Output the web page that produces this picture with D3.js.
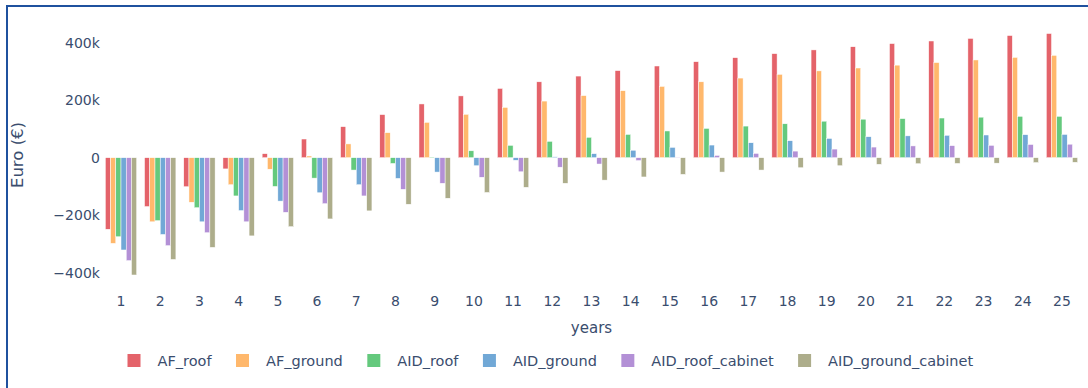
<!DOCTYPE html>
<html>
<head>
<meta charset="utf-8">
<script src="https://cdn.jsdelivr.net/npm/d3@7"></script>
<style>
  html, body { margin: 0; padding: 0; background: #fff; }
  svg { display: block; font-family: "DejaVu Sans", Verdana, sans-serif; }
</style>
</head>
<body>
<svg id="chart" width="1088" height="388"></svg>
<script>
// ---- data (values in thousands of euro) ----
const years = ["1","2","3","4","5","6","7","8","9","10","11","12","13","14","15","16","17","18","19","20","21","22","23","24","25"];
const seriesNames = ["AF_roof","AF_ground","AID_roof","AID_ground","AID_roof_cabinet","AID_ground_cabinet"];
const AF_roof = [-249,-170,-101,-39,14,65,108,150,187,215,241,264,284,303,319,334,348,362,375,386,397,406,415,425,432];
const AF_ground = [-298,-223,-155,-94,-40,6,48,87,123,151,175,197,216,233,248,264,277,290,302,312,322,331,340,349,356];
const AID_roof = [-275,-219,-174,-133,-100,-71,-43,-20,2,24,43,57,71,81,93,102,110,118,127,134,136,138,141,144,144];
const AID_ground = [-321,-267,-223,-184,-151,-122,-94,-72,-50,-28,-9,3,14,26,36,44,52,59,67,73,76,78,79,80,81];
const AID_roof_cabinet = [-358,-306,-261,-223,-190,-160,-133,-110,-89,-68,-49,-33,-22,-10,1,8,15,23,30,37,41,42,43,46,47];
const AID_ground_cabinet = [-408,-354,-312,-272,-240,-213,-185,-162,-141,-121,-103,-89,-78,-67,-58,-50,-43,-35,-28,-23,-21,-20,-19,-17,-16];
const yTicks = [-400000,-200000,0,200000,400000];
const colors = ["#e4636a","#ffb86c","#64c97d","#71a8d6","#b390d6","#adad8b"];

const seriesValues = [AF_roof, AF_ground, AID_roof, AID_ground, AID_roof_cabinet, AID_ground_cabinet];

// ---- layout ----
const svg = d3.select("#chart");
const plot = {left: 101.4, right: 1081.6, top: 20, bottom: 290};
const textColor = "#3a4d6e";

// frame
svg.append("rect")
  .attr("x", 7).attr("y", 6)
  .attr("width", 1100).attr("height", 400)
  .attr("fill", "none")
  .attr("stroke", "#1f519e")
  .attr("stroke-width", 2);

const x = d3.scaleBand().domain(years).range([plot.left, plot.right])
  .paddingInner(0.2).paddingOuter(0.1);
const xs = d3.scaleBand().domain(seriesNames).range([0, x.bandwidth()]).padding(0);
const y = d3.scaleLinear().domain([-460200, 479000]).range([plot.bottom, plot.top]);

// bars
const flat = [];
seriesNames.forEach((s, i) => {
  years.forEach((yr, j) => flat.push({s, i, yr, v: seriesValues[i][j] * 1000}));
});
svg.append("g").selectAll("rect").data(flat).join("rect")
  .attr("x", d => x(d.yr) + xs(d.s))
  .attr("width", xs.bandwidth())
  .attr("y", d => y(Math.max(0, d.v)))
  .attr("height", d => Math.abs(y(d.v) - y(0)))
  .attr("fill", d => colors[d.i])
  .attr("stroke", "#fff")
  .attr("stroke-width", 0.5);

// axes
const fmt = d3.format("~s");
const yAxis = svg.append("g").attr("transform", `translate(${plot.left},0)`)
  .call(d3.axisLeft(y).tickValues(yTicks).tickSize(0).tickPadding(1.5).tickFormat(fmt));
yAxis.select(".domain").remove();
yAxis.selectAll("text").attr("fill", textColor).style("font-size", "14px")
  .style("font-family", "'DejaVu Sans', Verdana, sans-serif");

const xAxis = svg.append("g").attr("transform", `translate(0,${plot.bottom})`)
  .call(d3.axisBottom(x).tickSize(0).tickPadding(6));
xAxis.select(".domain").remove();
xAxis.selectAll("text").attr("fill", textColor).style("font-size", "14px")
  .style("font-family", "'DejaVu Sans', Verdana, sans-serif");

// axis titles
svg.append("text")
  .attr("transform", "translate(23,155) rotate(-90)")
  .attr("text-anchor", "middle")
  .attr("fill", textColor)
  .style("font-size", "16.5px")
  .text("Euro (€)");
svg.append("text")
  .attr("x", (plot.left + plot.right) / 2).attr("y", 333)
  .attr("text-anchor", "middle")
  .attr("fill", textColor)
  .style("font-size", "15px")
  .text("years");

// legend
const legend = svg.append("g");
let lx = 127.5;
seriesNames.forEach((s, i) => {
  legend.append("rect")
    .attr("x", lx).attr("y", 354)
    .attr("width", 13).attr("height", 13)
    .attr("fill", colors[i]);
  const t = legend.append("text")
    .attr("x", lx + 30).attr("y", 365.5)
    .attr("fill", textColor)
    .style("font-size", "14.5px")
    .text(s);
  lx = lx + 30 + t.node().getComputedTextLength() + 24.5;
});
</script>
</body>
</html>
